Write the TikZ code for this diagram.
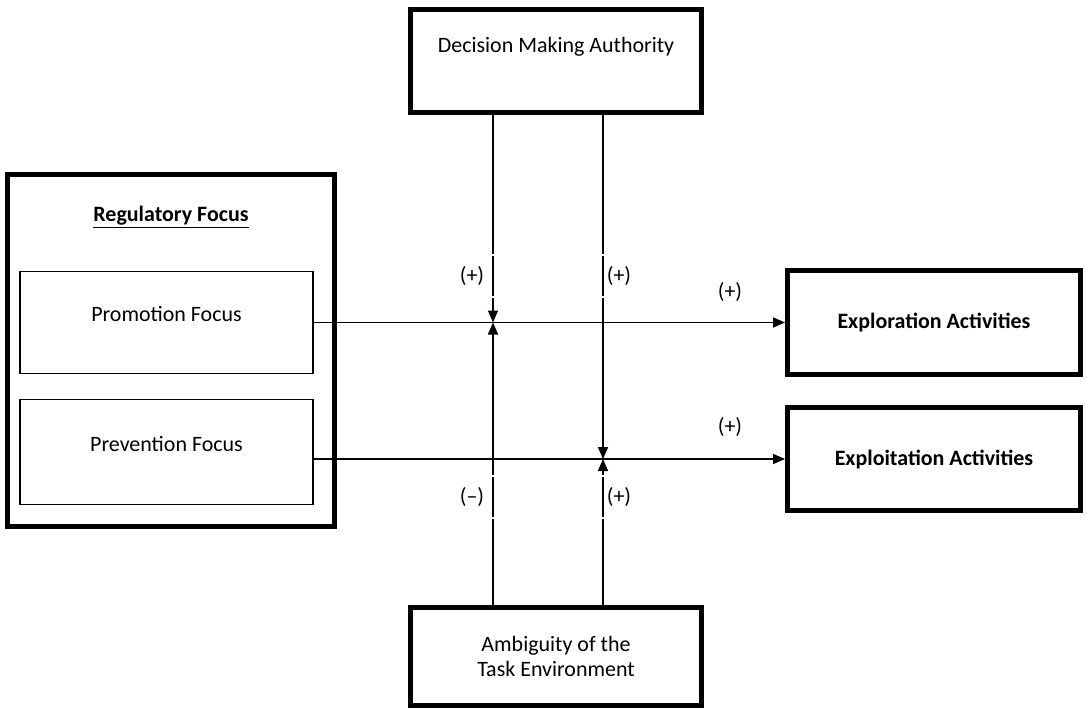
\documentclass[tikz,border=0pt]{standalone}
\usepackage{fontspec}
\setmainfont{Carlito}
\usetikzlibrary{arrows.meta}

\begin{document}
\begin{tikzpicture}[x=0.02cm,y=-0.02cm,
    font=\fontsize{12.5}{14.4}\selectfont,
    thickbox/.style={draw,line width=0.1cm,rectangle},
    thinbox/.style={draw,line width=0.8pt,rectangle,minimum width=5.86cm},
    link/.style={line width=0.8pt,-{Triangle[length=0.24cm,width=0.2cm]}},
    signl/.style={draw=white,line width=1pt,anchor=west,text width=0.9cm,align=left,inner xsep=0.06cm,minimum height=0.84cm},
    signr/.style={signl,anchor=east,align=right}]
    \useasboundingbox (0,0) rectangle (1086,711);

    % Moderadores
    \node[thickbox,minimum width=5.82cm,minimum height=2.06cm,text height=9pt,text depth=19pt] (dma) at (556,61) {Decision Making Authority};
    \node[thickbox,minimum width=5.82cm,minimum height=1.96cm,align=center] (amb) at (556,656.5) {Ambiguity of the\\Task Environment};

    % Enfoque regulatorio
    \node[thickbox,minimum width=6.54cm,minimum height=7.04cm] (reg) at (171,350.5) {};
    \node (regt) at (171,217) {\underline{\textbf{Regulatory Focus}}};
    \node[thinbox,minimum height=2.04cm,text height=9pt,text depth=10pt] (promo) at (166.5,322.5) {Promotion Focus};
    \node[thinbox,minimum height=2.1cm,text height=9pt,text depth=10pt] (prev) at (166.5,452) {Prevention Focus};

    % Resultados
    \node[thickbox,minimum width=5.86cm,minimum height=2.08cm] (explor) at (934,322.5) {\textbf{Exploration Activities}};
    \node[thickbox,minimum width=5.86cm,minimum height=2.06cm] (exploit) at (934,459) {\textbf{Exploitation Activities}};

    \coordinate (m1) at (493,322.5);
    \coordinate (m2) at (603,459);

    \draw[link] (promo.east) -- (explor.west);
    \draw[link] (prev.east |- exploit.west) -- (exploit.west);
    \draw[link] (dma.south -| m1) -- (m1);
    \draw[link] (amb.north -| m1) -- (m1);
    \draw[link] (dma.south -| m2) -- (m2);
    \draw[link] (amb.north -| m2) -- (m2);

    % Signos
    \node[signl] (s1) at (456,276) {(+)};
    \node[signr] (s2) at (635,276) {(+)};
    \node[signl] (s3) at (456,497) {(–)};
    \node[signr] (s4) at (635,497) {(+)};
    \node (s5) at (730,292) {(+)};
    \node (s6) at (730,427) {(+)};
\end{tikzpicture}
\end{document}
